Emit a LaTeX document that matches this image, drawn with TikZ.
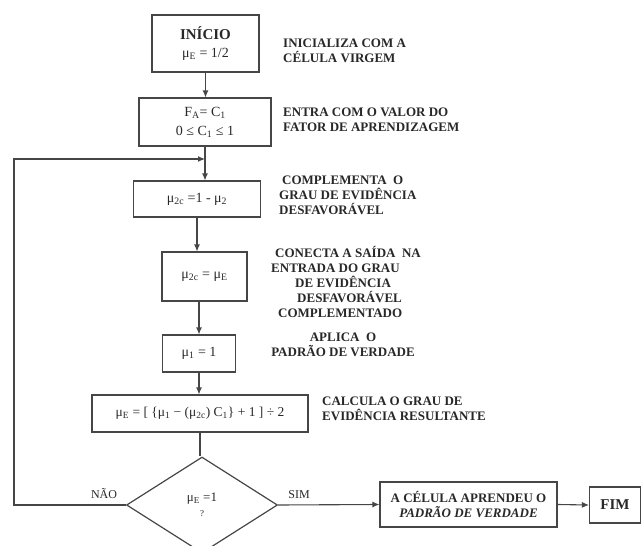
\documentclass[tikz,border=0pt]{standalone}
\usepackage{fontspec}
\setmainfont{Liberation Serif}
\usepackage{tikz}
\usetikzlibrary{arrows.meta, positioning, shapes.geometric, calc}
\definecolor{traco}{RGB}{70,70,70}
\definecolor{texto}{RGB}{40,40,40}
\newcommand{\mut}[1]{μ\textsubscript{#1}}

\begin{document}
\begin{tikzpicture}[x=1pt, y=-1pt,
	caixa/.style={draw=traco, line width=1.1pt, align=center, inner sep=2pt, text=texto, font=\fontsize{14}{16}\selectfont},
	decisao/.style={caixa, diamond, aspect=1.57, inner sep=0pt, line width=1.2pt},
	nota/.style={anchor=west, align=left, inner sep=0pt, text=texto, font=\fontsize{13}{15}\selectfont\bfseries},
	rotulo/.style={text=texto, inner sep=0pt, font=\fontsize{12}{14}\selectfont},
	linha/.style={draw=traco, line width=1.1pt},
	seta/.style={linha, -{Latex[length=7pt, width=6pt]}}]
	\useasboundingbox (0,0) rectangle (641,546);
	\clip (0,0) rectangle (641,546);
	% caixas do fluxo
	\node[caixa, minimum width=107pt, minimum height=57pt] (inicio) at (205.5,43.5)
		{{\fontsize{15}{17}\selectfont\bfseries INÍCIO}\\[2pt] \mut{E} = 1/2};
	\node[caixa, minimum width=132pt, minimum height=48pt] (fator) at (205,122)
		{F\textsubscript{A}= C\textsubscript{1}\\[3pt] 0 ≤ C\textsubscript{1} ≤ 1};
	\node[caixa, minimum width=127pt, minimum height=36pt] (compl) at (197,199)
		{\mut{2c} =1 - \mut{2}};
	\node[caixa, minimum width=85pt, minimum height=49pt] (saida) at (204.5,276.5)
		{\mut{2c} = \mut{E}};
	\node[caixa, minimum width=73pt, minimum height=37pt] (padrao) at (199,353.5)
		{\mut{1} = 1};
	\node[caixa, font=\fontsize{13.5}{16}\selectfont, minimum width=216pt, minimum height=37pt] (calc) at (200,413.5)
		{\mut{E} = [ \{\mut{1} − (\mut{2c}) C\textsubscript{1}\} + 1 ] ÷ 2};
	\node[decisao, font=\fontsize{13}{15}\selectfont, minimum width=151pt, minimum height=96pt] (teste) at (202,505)
		{\mut{E} =1\\[0pt]{\fontsize{9}{10}\selectfont ?}};
	\node[caixa, font=\fontsize{13}{15}\selectfont\bfseries, minimum width=177pt, minimum height=45pt] (aprendeu) at (468.5,504.5)
		{A CÉLULA APRENDEU O\\ \itshape PADRÃO DE VERDADE};
	\node[caixa, font=\fontsize{15}{17}\selectfont\bfseries, minimum width=51pt, minimum height=36pt] (fim) at (615,505) {FIM};
	% comentarios
	\node[nota] (n1) at (283,51) {INICIALIZA COM A\\CÉLULA VIRGEM};
	\node[nota] (n2) at (283,120) {ENTRA COM O VALOR DO\\FATOR DE APRENDIZAGEM};
	\node[nota] (n3) at (279,195) {\hspace*{3pt}COMPLEMENTA\ \ O\\GRAU DE EVIDÊNCIA\\DESFAVORÁVEL};
	\node[nota] (n4) at (271,282) {\hspace*{4pt}CONECTA A SAÍDA\ \ NA\\ENTRADA DO GRAU\\\hspace*{24pt}DE EVIDÊNCIA\\\hspace*{26pt}DESFAVORÁVEL\\\hspace*{7pt}COMPLEMENTADO};
	\node[nota, anchor=center, align=center] (n5) at (343,345) {APLICA\ \ O\\PADRÃO DE VERDADE};
	\node[nota] (n6) at (322,409) {CALCULA O GRAU DE\\EVIDÊNCIA RESULTANTE};
	% setas
	\draw[seta] (inicio.south) -- (inicio.south |- fator.north);
	\draw[seta] (fator.south) -- (fator.south |- compl.north);
	\draw[seta] (compl.south) -- (compl.south |- saida.north);
	\draw[seta] (padrao.north |- saida.south) -- (padrao.north);
	\draw[seta] (padrao.south) -- (padrao.south |- calc.north);
	\draw[linha] (calc.south) -- (calc.south |- teste.north);
	\draw[seta] (teste.east) -- (aprendeu.west);
	\draw[seta] (aprendeu.east) -- (fim.west);
	% volta
	\coordinate (canto) at (14,505);
	\coordinate (juncao) at (fator.south |- 0,159);
	\draw[seta] (teste.west) -- (canto) |- (juncao);
	\node[rotulo] (nao) at (104,494) {NÃO};
	\node[rotulo] (sim) at (299,495) {SIM};
\end{tikzpicture}
\end{document}
